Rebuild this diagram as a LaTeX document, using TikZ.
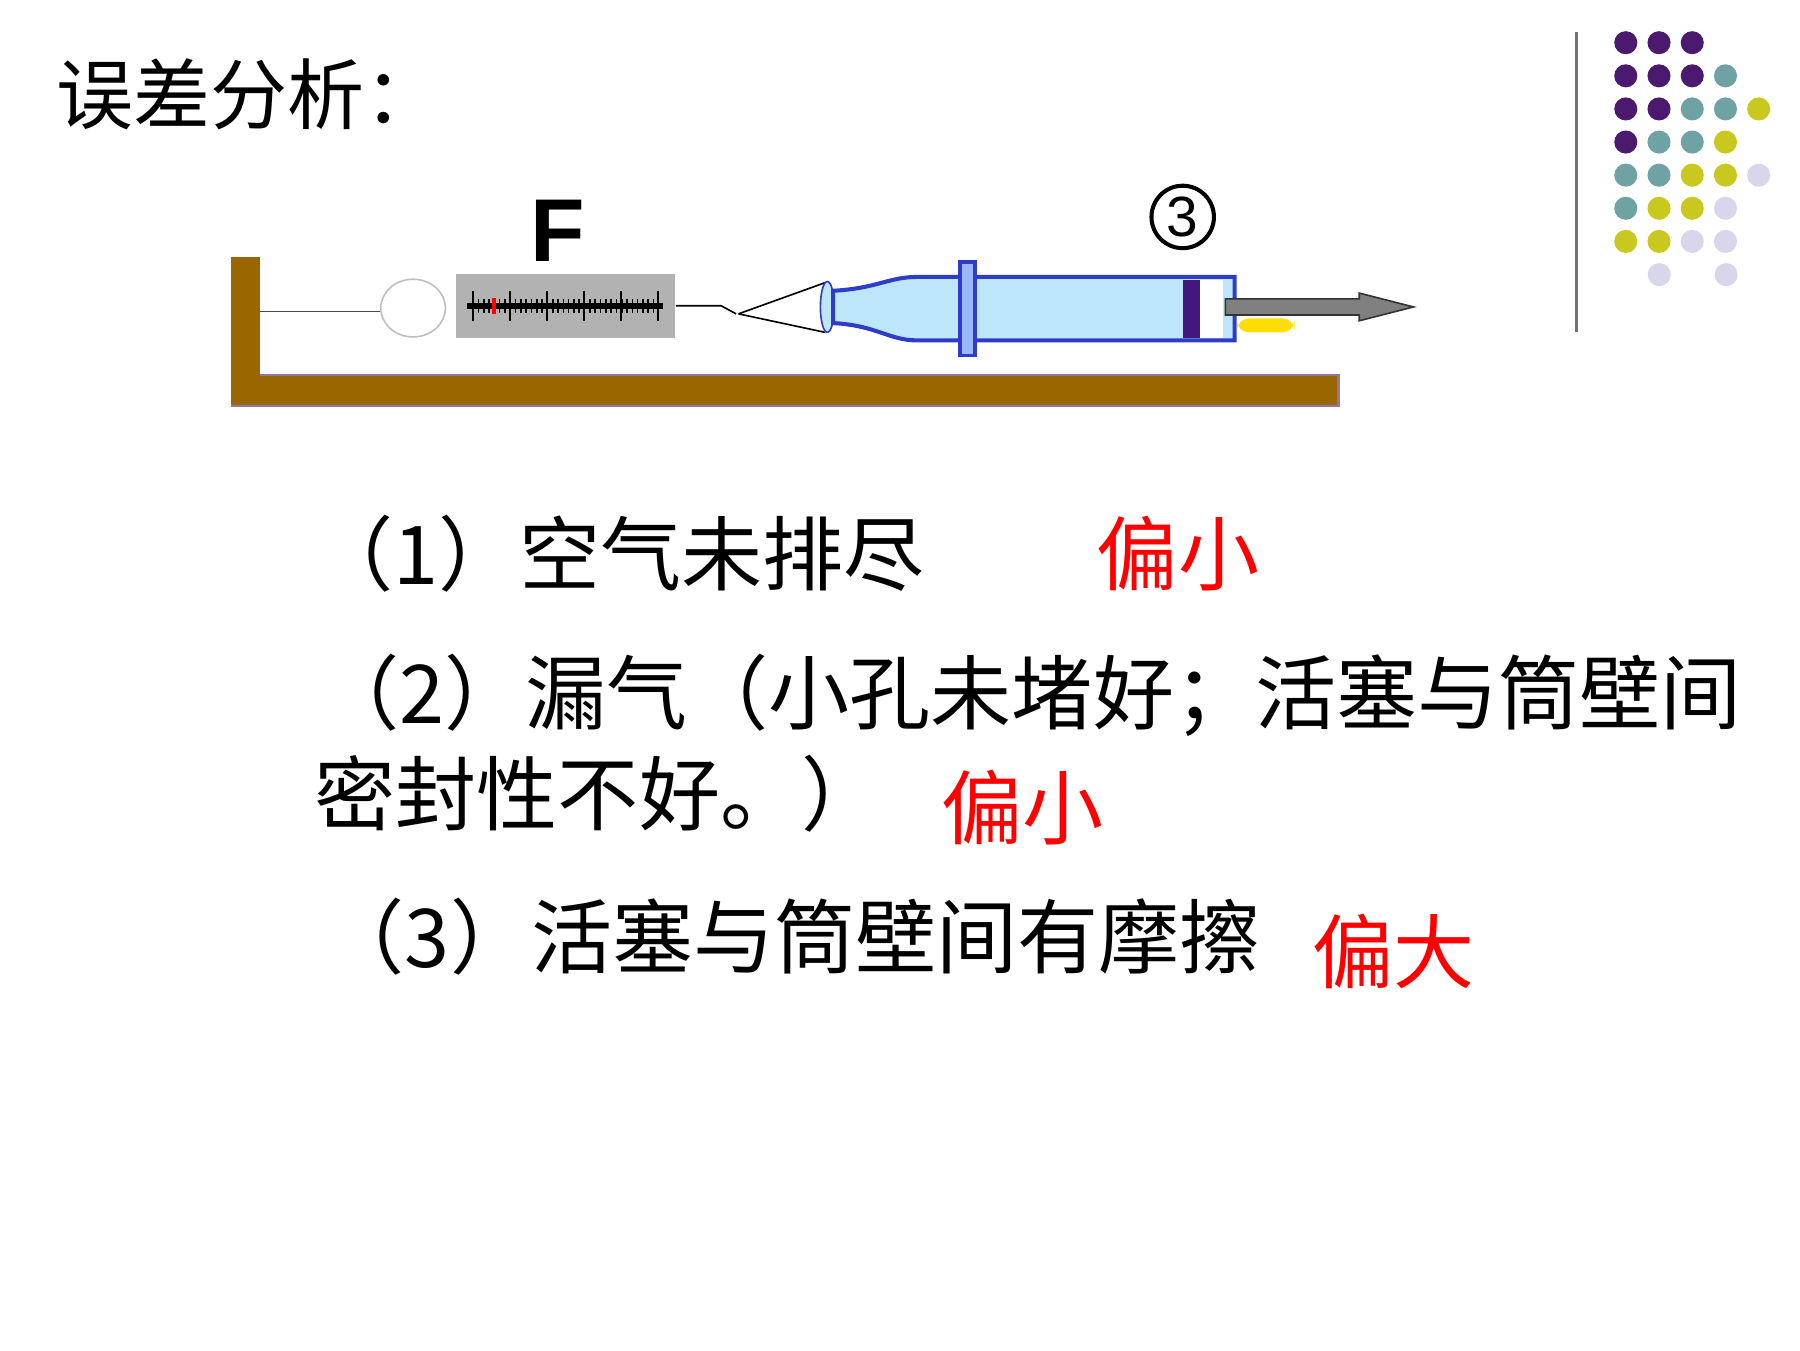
\documentclass[tikz,border=0pt]{standalone}
\usepackage{fontspec}
\setmainfont{Liberation Sans}
\newfontfamily\cjk{Noto Sans CJK SC}
\usetikzlibrary{positioning, shapes.geometric}
\definecolor{wood}{HTML}{996600}
\definecolor{dotP}{HTML}{4B1A6E}
\definecolor{dotT}{HTML}{6FA3A3}
\definecolor{dotY}{HTML}{C8C81E}
\definecolor{dotL}{HTML}{D8D6EA}
\definecolor{barrel}{HTML}{BEE6FA}
\definecolor{edge}{HTML}{2E3CC8}
\tikzset{
  txt/.style={font=\cjk\fontsize{20}{24}\selectfont, anchor=west, inner sep=0pt},
  res/.style={txt, text=red},
  dot/.style={circle, inner sep=0pt, minimum size=2mm}
}
\begin{document}
\begin{tikzpicture}[x=0.1mm, y=-0.1mm]
\useasboundingbox (0,0) rectangle (1560,1170);

% title
\node (title) [txt, font=\cjk\fontsize{19}{22}\selectfont] at (48,82) {误差分析：};

% stand
\fill[wood] (200,223) rectangle (225,352);
\fill[wood] (200,325) rectangle (1160,352);
\draw[dotP!60, line width=0.6pt] (225,325) -- (1160,325) -- (1160,352) -- (200,352);

% spring scale
\draw[black!70] (225,270) -- (330,270);
\node (ring) [draw=black!25, ellipse, minimum width=5.6mm, minimum height=5mm, inner sep=0pt] at (358,267) {};
\node (scale) [fill=black!30, minimum width=19mm, minimum height=5.5mm, inner sep=0pt] at (490,265) {};
\draw[black, line width=1.5pt] (405,265) -- (575,265);
\foreach \i in {0,...,34} \draw[black] (410+\i*4.6,259) -- (410+\i*4.6,271);
\foreach \i in {0,...,5} \draw[black] (410+\i*32,252) -- (410+\i*32,278);
\draw[red, line width=1pt] (428,258) -- (428,272);
\node (F) [font=\bfseries\fontsize{22}{26}\selectfont] at (483,200) {F};

% hook and cord
\draw[black] (scale.east) -- (625,265) -- (638,272);
\draw[black] (640,272) -- (715,245) (640,272) -- (715,288);

% syringe
\node (nozzle) [draw=edge, fill=barrel, ellipse, minimum width=1.2mm, minimum height=4.4mm, inner sep=0pt] at (717,266) {};
\draw[edge, fill=barrel, line width=1pt] (722,252) .. controls (760,250) and (770,240) .. (795,240) -- (1070,240) -- (1070,295) -- (795,295) .. controls (770,295) and (760,282) .. (722,280) -- cycle;
\fill[white] (1040,243) rectangle (1060,293);
\fill[dotP!90!blue] (1025,243) rectangle (1040,293);
\draw[edge, fill=barrel!80!blue, line width=0.8pt] (832,227) rectangle (845,308);
\fill[yellow!80!orange, rounded corners=3pt] (1072,276) rectangle (1122,288);

% pull arrow
\node (syringe) [inner sep=0pt] at (1062,266) {};
\coordinate (pull) at (1225,266);
\draw[black!80, fill=black!50] (1062,259) -- (1178,259) -- (1178,254) -- (pull) -- (1178,278) -- (1178,273) -- (1062,273) -- cycle;
\node (three) [draw, circle, line width=1pt, inner sep=1pt, minimum size=4.2mm, font=\fontsize{14}{16}\selectfont] at (1025,188) {3};

% items
\node (item1) [txt] at (270,480) {（1）空气未排尽};
\node (res1) [res] at (950,480) {偏小};
\node (item2a) [txt] at (275,603) {（2）漏气（小孔未堵好；活塞与筒壁间};
\node (item2b) [txt] at (272,688) {密封性不好。）};
\node (res2) [res] at (815,700) {偏小};
\node (item3) [txt] at (280,812) {（3）活塞与筒壁间有摩擦};
\node (res3) [res] at (1137,825) {偏大};

% decoration dots
\draw[black!55, line width=0.8pt] (1366,28) -- (1366,288);
\foreach \r/\list in {0/{P,P,P}, 1/{P,P,P,T}, 2/{P,P,T,T,Y}, 3/{P,T,T,Y},
                      4/{T,T,Y,Y,L}, 5/{T,Y,Y,L}, 6/{Y,Y,L,L}}
  \foreach \c [count=\k from 0] in \list
    \node[dot, fill=dot\c] at (1409+\k*28.8,37+\r*28.7) {};
\node[dot, fill=dotL] at (1438,238) {};
\node[dot, fill=dotL] at (1496,238) {};
\end{tikzpicture}
\end{document}
